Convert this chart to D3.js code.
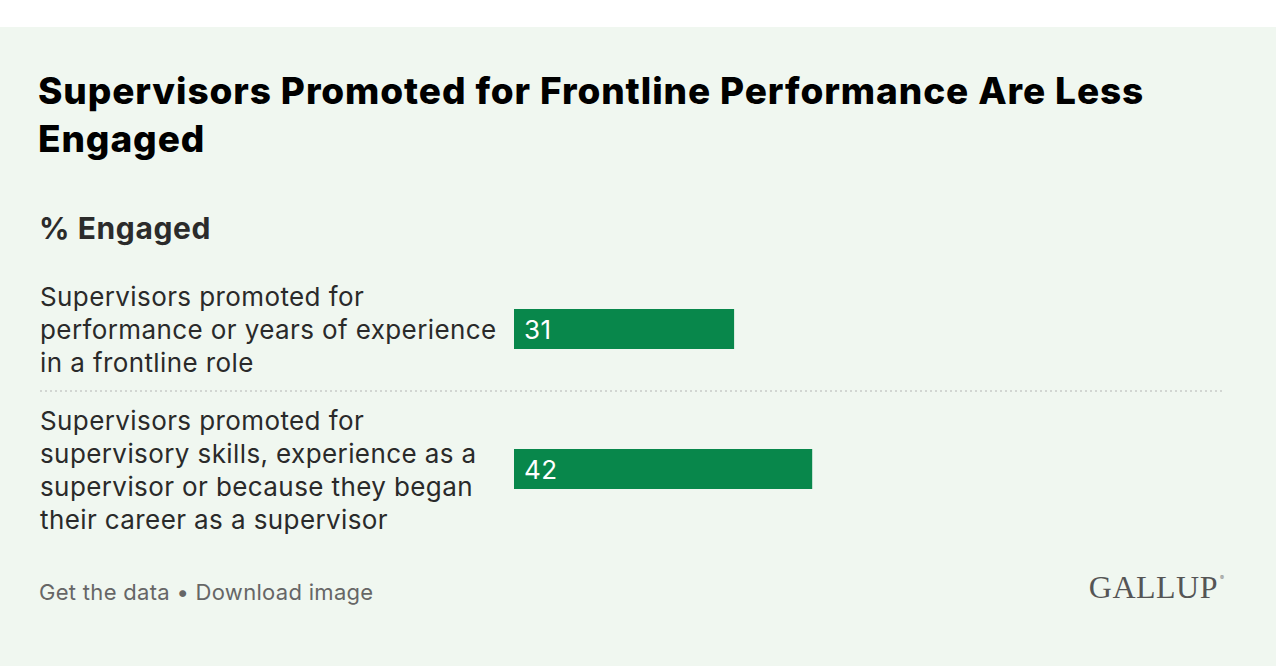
<!DOCTYPE html>
<html>
<head>
<meta charset="utf-8">
<script src="https://cdn.jsdelivr.net/npm/d3@7"></script>
<style>
  html, body { margin: 0; padding: 0; background: #fff; }
  svg { display: block; font-family: Inter, "Noto Sans", sans-serif; }
</style>
</head>
<body>
<svg id="chart" width="1276" height="666"></svg>
<script>
// ------------------------------------
// Data
// ------------------------------------
const categories = [
  "Supervisors promoted for performance or years of experience in a frontline role",
  "Supervisors promoted for supervisory skills, experience as a supervisor or because they began their career as a supervisor"
];
const labelLines = [
  ["Supervisors promoted for", "performance or years of experience", "in a frontline role"],
  ["Supervisors promoted for", "supervisory skills, experience as a", "supervisor or because they began", "their career as a supervisor"]
];
const engaged = [31, 42];

const title = ["Supervisors Promoted for Frontline Performance Are Less", "Engaged"];
const subtitle = "% Engaged";
const footer = "Get the data \u2022 Download image";

// ------------------------------------
// Layout
// ------------------------------------
const width = 1276, height = 666;
const svg = d3.select("#chart");

svg.append("rect")
  .attr("x", 0).attr("y", 27)
  .attr("width", width).attr("height", height - 27)
  .attr("fill", "#f0f7f0");

const x = d3.scaleLinear().domain([0, 100]).range([514, 1224]);
const y = d3.scalePoint().domain(categories).range([329, 469]);
const barH = 40;
const lineH = 33;

// Title
svg.append("text")
  .attr("x", 38).attr("y", 104)
  .style("font-size", "37px")
  .style("font-weight", 800)
  .style("letter-spacing", "0.9px")
  .attr("fill", "#000")
  .selectAll("tspan")
  .data(title)
  .join("tspan")
  .attr("x", 38)
  .attr("dy", (d, i) => i === 0 ? 0 : 48)
  .text(d => d);

// Subtitle
svg.append("text")
  .attr("x", 39).attr("y", 239)
  .style("font-size", "30px")
  .style("font-weight", 700)
  .style("letter-spacing", "0.6px")
  .attr("fill", "#2b2b2b")
  .text(subtitle);

// Separator
svg.append("line")
  .attr("x1", 40).attr("x2", x(100))
  .attr("y1", y(categories[0]) + 62).attr("y2", y(categories[0]) + 62)
  .attr("stroke", "#c8ccc8")
  .attr("stroke-width", 1.5)
  .attr("stroke-dasharray", "2,3");

// Rows
const rows = svg.append("g")
  .selectAll("g")
  .data(categories)
  .join("g");

rows.append("text")
  .style("font-size", "26px")
  .style("letter-spacing", "0.4px")
  .attr("fill", "#2a2a2a")
  .each(function(d, i) {
    const lines = labelLines[i];
    const first = y(d) + 10 - (lines.length - 1) * lineH / 2;
    d3.select(this).selectAll("tspan")
      .data(lines)
      .join("tspan")
      .attr("x", 40)
      .attr("y", (l, j) => first + j * lineH)
      .text(l => l);
  });

rows.append("rect")
  .attr("x", x(0))
  .attr("y", d => y(d) - barH / 2)
  .attr("width", (d, i) => x(engaged[i]) - x(0))
  .attr("height", barH)
  .attr("fill", "#08874b");

rows.append("text")
  .attr("x", x(0) + 10)
  .attr("y", d => y(d) + 10)
  .style("font-size", "26px")
  .style("letter-spacing", "0.5px")
  .attr("fill", "#fff")
  .text((d, i) => engaged[i]);

// Footer
svg.append("text")
  .attr("x", 39).attr("y", 600)
  .style("font-size", "22px")
  .style("letter-spacing", "0.3px")
  .attr("fill", "#666")
  .text(footer);

svg.append("text")
  .attr("x", 1218).attr("y", 598)
  .attr("text-anchor", "end")
  .style("font-family", "'Liberation Serif', 'DejaVu Serif', serif")
  .style("font-size", "32px")
  .style("letter-spacing", "0.5px")
  .attr("fill", "#555")
  .text("GALLUP");

svg.append("text")
  .attr("x", 1220).attr("y", 580)
  .style("font-size", "6px")
  .attr("fill", "#777")
  .text("\u00ae");
</script>
</body>
</html>
